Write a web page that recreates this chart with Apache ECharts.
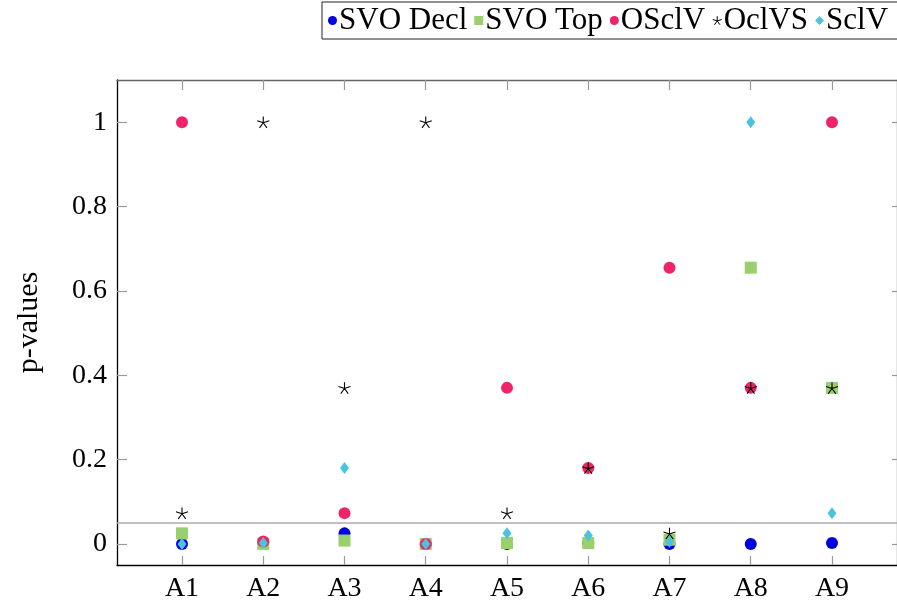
<!DOCTYPE html>
<html>
<head>
<meta charset="utf-8">
<script src="https://cdn.jsdelivr.net/npm/echarts@6/dist/echarts.min.js"></script>
<style>
  html, body { margin: 0; padding: 0; background: #fff; }
  #chart { width: 897px; height: 604px; }
</style>
</head>
<body>
<div id="chart"></div>
<script>
// Categories along the x axis (positions 1..9)
const categories = ['A1', 'A2', 'A3', 'A4', 'A5', 'A6', 'A7', 'A8', 'A9'];

// p-values per construction
const svoDecl = [0, 0.003, 0.025, 0, 0, 0.002, 0, 0, 0.002];
const svoTop  = [0.025, 0, 0.008, 0, 0.002, 0.002, 0.01, 0.655, 0.37];
const osclv   = [1, 0.006, 0.073, 0, 0.37, 0.18, 0.655, 0.37, 1];
const oclvs   = [0.073, 1, 0.37, 1, 0.073, 0.18, 0.025, 0.37, 0.37];
const sclv    = [0, 0.002, 0.18, 0, 0.025, 0.02, 0.005, 1, 0.073];

// Tick labels and significance threshold
const yTicks = [0, 0.2, 0.4, 0.6, 0.8, 1];
const xTicks = [1, 2, 3, 4, 5, 6, 7, 8, 9];
const threshold = 0.05;

const FONT = '"Liberation Serif", "DejaVu Serif", serif';
const STAR = 'path://M0,-10L0,0M9.51,-3.09L0,0M5.88,8.09L0,0M-5.88,8.09L0,0M-9.51,-3.09L0,0';

function pts(vals) { return vals.map((v, i) => [i + 1, v]); }

const chart = echarts.init(document.getElementById('chart'), null, { renderer: 'canvas' });

const tickStyle = { color: '#9a9a9a', width: 1.2 };

chart.setOption({
  animation: false,
  backgroundColor: '#fff',
  textStyle: { fontFamily: FONT },
  grid: { left: 117, top: 80, width: 788, height: 485, containLabel: false },
  legend: {
    left: 322, top: 2, width: 700,
    orient: 'horizontal',
    padding: [3, 16, 3, 6],
    itemGap: 7,
    itemWidth: 9, itemHeight: 9,
    borderColor: '#222', borderWidth: 1,
    textStyle: { fontFamily: FONT, fontSize: 31, color: '#000', padding: [0, 0, 0, -3] },
    data: [
      { name: 'SVO Decl', icon: 'circle' },
      { name: 'SVO Top', icon: 'rect' },
      { name: 'OSclV', icon: 'circle' },
      { name: 'OclVS', icon: STAR, itemStyle: { color: 'transparent', borderColor: '#000', borderWidth: 1 } },
      { name: 'SclV', icon: 'diamond' }
    ]
  },
  xAxis: [
    {
      type: 'value', min: 0.2, max: 9.8, position: 'bottom',
      axisLine: { show: true, onZero: false, lineStyle: { color: '#000', width: 1.3 } },
      axisTick: { show: true, inside: true, length: 9, customValues: xTicks, lineStyle: tickStyle },
      axisLabel: {
        customValues: xTicks, margin: 10,
        formatter: v => categories[Math.round(v) - 1],
        fontFamily: FONT, fontSize: 28, color: '#000'
      },
      splitLine: { show: false }
    },
    {
      type: 'value', min: 0.2, max: 9.8, position: 'top',
      axisLine: { show: true, onZero: false, lineStyle: { color: '#666', width: 1.3 } },
      axisTick: { show: true, inside: true, length: 10, customValues: xTicks, lineStyle: tickStyle },
      axisLabel: { show: false },
      splitLine: { show: false }
    }
  ],
  yAxis: [
    {
      type: 'value', min: -0.05, max: 1.1, position: 'left',
      name: 'p-values', nameLocation: 'middle', nameRotate: 90, nameGap: 73,
      nameTextStyle: { fontFamily: FONT, fontSize: 30, color: '#000' },
      axisLine: { show: true, onZero: false, lineStyle: { color: '#000', width: 1.3 } },
      axisTick: { show: true, inside: true, length: 10, customValues: yTicks, lineStyle: tickStyle },
      axisLabel: {
        customValues: yTicks, margin: 10,
        formatter: v => String(v),
        fontFamily: FONT, fontSize: 28, color: '#000'
      },
      splitLine: { show: false }
    },
    {
      type: 'value', min: -0.05, max: 1.1, position: 'right',
      axisLine: { show: true, onZero: false, lineStyle: { color: '#666', width: 1.3 } },
      axisTick: { show: true, inside: true, length: 5, customValues: yTicks, lineStyle: tickStyle },
      axisLabel: { show: false },
      splitLine: { show: false }
    }
  ],
  series: [
    {
      name: 'SVO Decl', type: 'scatter', data: pts(svoDecl),
      symbol: 'circle', symbolSize: 12,
      itemStyle: { color: '#0000e0', opacity: 1 },
      markLine: {
        silent: true, symbol: 'none', label: { show: false },
        lineStyle: { color: '#ababab', type: 'solid', width: 1.6 },
        data: [{ yAxis: threshold }]
      }
    },
    {
      name: 'SVO Top', type: 'scatter', data: pts(svoTop),
      symbol: 'rect', symbolSize: 12,
      itemStyle: { color: '#99cf6c', opacity: 1 }
    },
    {
      name: 'OSclV', type: 'scatter', data: pts(osclv),
      symbol: 'circle', symbolSize: 12,
      itemStyle: { color: '#ef2468', opacity: 1 }
    },
    {
      name: 'OclVS', type: 'scatter', data: pts(oclvs),
      symbol: STAR, symbolSize: 12, symbolKeepAspect: true,
      itemStyle: { color: 'transparent', borderColor: '#000', borderWidth: 1.1, opacity: 1 }
    },
    {
      name: 'SclV', type: 'scatter', data: pts(sclv),
      symbol: 'diamond', symbolSize: [9, 12],
      itemStyle: { color: '#4cc3de', opacity: 1 }
    }
  ]
});
</script>
</body>
</html>
